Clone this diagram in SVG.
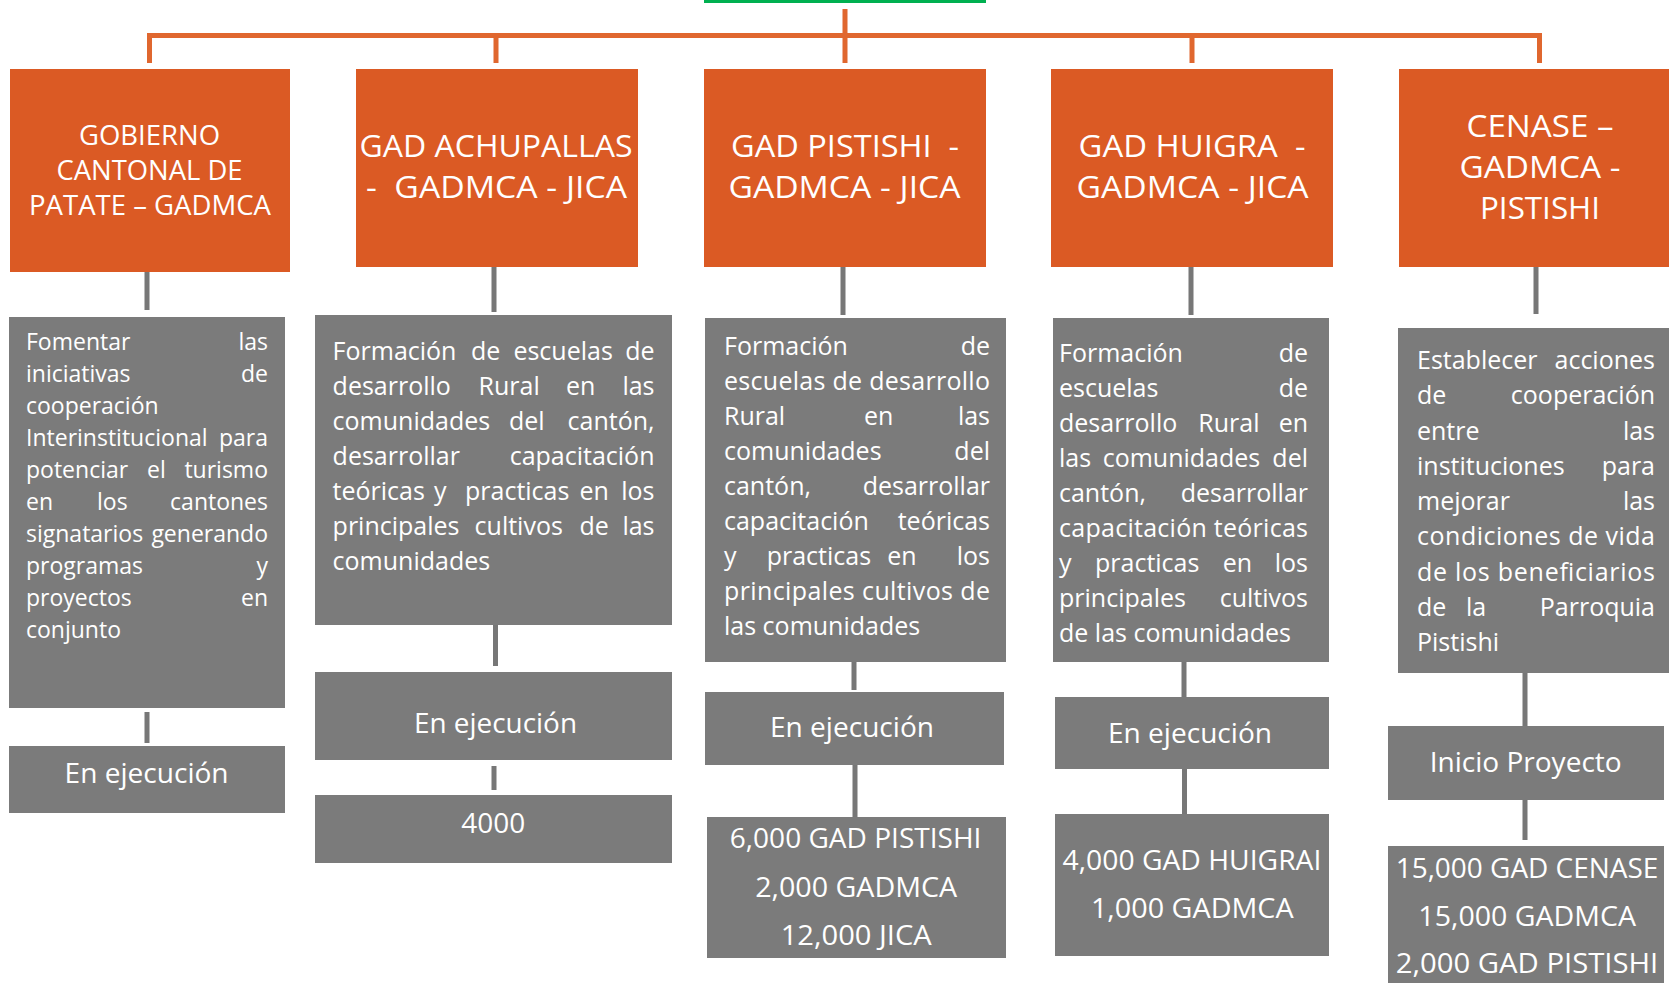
<svg xmlns="http://www.w3.org/2000/svg" width="1669" height="983" viewBox="0 0 1669 983">
<style>
.ob{fill:#DB5A24}
.gb{fill:#7B7B7B}
.oc{stroke:#E0672F;stroke-width:5;fill:none}
.gc{stroke:#777777;stroke-width:5;fill:none}
text{font-family:"Open Sans","Liberation Sans",sans-serif;fill:#FFFFFF}
.h{font-size:31px;text-anchor:middle}
.h1{font-size:27px;text-anchor:middle}
.s{font-size:27.5px;text-anchor:middle}
.a{font-size:26.5px;text-anchor:middle}
.d{font-size:25px}
.d1{font-size:23px}
.e{text-anchor:end}
</style>
<rect x="704" y="0" width="282" height="3" fill="#00B050"/>
<g id="connectors">
<path class="oc" d="M845 9 V63 M149.5 63 V35.5 H1539.5 V63 M496 35.5 V63 M1192 35.5 V63"/>
<path class="gc" d="M147 271 V310 M494 266 V312 M843 266 V315 M1191 266 V315 M1536 266 V314"/>
<path class="gc" d="M147 712 V743 M495.5 624 V666 M854 662 V690 M1184 662 V697 M1525 672 V726"/>
<path class="gc" d="M494 766 V790 M855 764 V817 M1184.5 768 V814 M1525 800 V840"/>
</g>
<g id="n1">
<rect class="ob" x="10" y="69" width="280" height="203"/>
<text class="h1" x="149.5" y="145" textLength="141" lengthAdjust="spacingAndGlyphs">GOBIERNO</text>
<text class="h1" x="149.5" y="180" textLength="186" lengthAdjust="spacingAndGlyphs">CANTONAL DE</text>
<text class="h1" x="150" y="215" textLength="242" lengthAdjust="spacingAndGlyphs">PATATE – GADMCA</text>
</g>
<g id="n2">
<rect class="ob" x="356" y="69" width="282" height="198"/>
<text class="h" x="496" y="157" textLength="273" lengthAdjust="spacingAndGlyphs">GAD ACHUPALLAS</text>
<text class="h" x="496.5" y="198" textLength="261" lengthAdjust="spacingAndGlyphs">-&#160; GADMCA - JICA</text>
</g>
<g id="n3">
<rect class="ob" x="704" y="69" width="282" height="198"/>
<text class="h" x="845" y="157" textLength="228" lengthAdjust="spacingAndGlyphs">GAD PISTISHI &#160;-</text>
<text class="h" x="844.5" y="198" textLength="232" lengthAdjust="spacingAndGlyphs">GADMCA - JICA</text>
</g>
<g id="n4">
<rect class="ob" x="1051" y="69" width="282" height="198"/>
<text class="h" x="1192" y="157" textLength="227" lengthAdjust="spacingAndGlyphs">GAD HUIGRA &#160;-</text>
<text class="h" x="1192.6" y="198" textLength="232" lengthAdjust="spacingAndGlyphs">GADMCA - JICA</text>
</g>
<g id="n5">
<rect class="ob" x="1399" y="69" width="270" height="198"/>
<text class="h" x="1540" y="137" textLength="147" lengthAdjust="spacingAndGlyphs">CENASE –</text>
<text class="h" x="1540" y="178" textLength="161" lengthAdjust="spacingAndGlyphs">GADMCA -</text>
<text class="h" x="1540" y="219" textLength="120" lengthAdjust="spacingAndGlyphs">PISTISHI</text>
</g>
<g id="d1">
<rect class="gb" x="9" y="317" width="276" height="391"/>
<text class="d1" y="350"><tspan x="26">Fomentar</tspan><tspan class="e" x="268">las</tspan></text>
<text class="d1" y="382"><tspan x="26">iniciativas</tspan><tspan class="e" x="268">de</tspan></text>
<text class="d1" y="414"><tspan x="26">cooperación</tspan></text>
<text class="d1" y="446"><tspan x="26">Interinstitucional</tspan><tspan class="e" x="268">para</tspan></text>
<text class="d1" y="478"><tspan x="26">potenciar</tspan><tspan x="147">el</tspan><tspan class="e" x="268">turismo</tspan></text>
<text class="d1" y="510"><tspan x="26">en</tspan><tspan x="97">los</tspan><tspan class="e" x="268">cantones</tspan></text>
<text class="d1" y="542"><tspan x="26">signatarios</tspan><tspan class="e" x="268">generando</tspan></text>
<text class="d1" y="574"><tspan x="26">programas</tspan><tspan class="e" x="268">y</tspan></text>
<text class="d1" y="606"><tspan x="26">proyectos</tspan><tspan class="e" x="268">en</tspan></text>
<text class="d1" y="638"><tspan x="26">conjunto</tspan></text>
</g>
<g id="d2">
<rect class="gb" x="315" y="315" width="357" height="310"/>
<text class="d" y="360"><tspan x="332.6">Formación</tspan><tspan x="471">de</tspan><tspan x="513.4">escuelas</tspan><tspan class="e" x="654.5">de</tspan></text>
<text class="d" y="395"><tspan x="332.6">desarrollo</tspan><tspan x="478.6">Rural</tspan><tspan x="566">en</tspan><tspan class="e" x="654.5">las</tspan></text>
<text class="d" y="430"><tspan x="332.6">comunidades</tspan><tspan x="509">del</tspan><tspan class="e" x="654.5">cantón,</tspan></text>
<text class="d" y="465"><tspan x="332.6">desarrollar</tspan><tspan class="e" x="654.5">capacitación</tspan></text>
<text class="d" y="500"><tspan x="332.6">teóricas</tspan><tspan x="434">y</tspan><tspan x="465">practicas</tspan><tspan x="579.5">en</tspan><tspan class="e" x="654.5">los</tspan></text>
<text class="d" y="535"><tspan x="332.6">principales</tspan><tspan x="474.6">cultivos</tspan><tspan x="579.5">de</tspan><tspan class="e" x="654.5">las</tspan></text>
<text class="d" y="570"><tspan x="332.6">comunidades</tspan></text>
</g>
<g id="d3">
<rect class="gb" x="705" y="318" width="301" height="344"/>
<text class="d" y="355"><tspan x="724">Formación</tspan><tspan class="e" x="990">de</tspan></text>
<text class="d" x="724" y="390" textLength="266" lengthAdjust="spacing">escuelas de desarrollo</text>
<text class="d" y="425"><tspan x="724">Rural</tspan><tspan x="864">en</tspan><tspan class="e" x="990">las</tspan></text>
<text class="d" y="460"><tspan x="724">comunidades</tspan><tspan class="e" x="990">del</tspan></text>
<text class="d" y="495"><tspan x="724">cantón,</tspan><tspan class="e" x="990">desarrollar</tspan></text>
<text class="d" y="530"><tspan x="724">capacitación</tspan><tspan class="e" x="990">teóricas</tspan></text>
<text class="d" y="565"><tspan x="724">y</tspan><tspan x="766.7">practicas</tspan><tspan x="887.3">en</tspan><tspan class="e" x="990">los</tspan></text>
<text class="d" x="724" y="600" textLength="266" lengthAdjust="spacing">principales cultivos de</text>
<text class="d" x="724" y="635">las comunidades</text>
</g>
<g id="d4">
<rect class="gb" x="1053" y="318" width="276" height="344"/>
<text class="d" y="361.7"><tspan x="1059">Formación</tspan><tspan class="e" x="1308">de</tspan></text>
<text class="d" y="396.7"><tspan x="1059">escuelas</tspan><tspan class="e" x="1308">de</tspan></text>
<text class="d" y="431.7"><tspan x="1059">desarrollo</tspan><tspan x="1198.3">Rural</tspan><tspan class="e" x="1308">en</tspan></text>
<text class="d" y="466.7"><tspan x="1059">las</tspan><tspan x="1102.7">comunidades</tspan><tspan class="e" x="1308">del</tspan></text>
<text class="d" y="501.7"><tspan x="1059">cantón,</tspan><tspan class="e" x="1308">desarrollar</tspan></text>
<text class="d" x="1059" y="536.7" textLength="249" lengthAdjust="spacing">capacitación teóricas</text>
<text class="d" y="571.7"><tspan x="1059">y</tspan><tspan x="1095">practicas</tspan><tspan x="1222.7">en</tspan><tspan class="e" x="1308">los</tspan></text>
<text class="d" y="606.7"><tspan x="1059">principales</tspan><tspan class="e" x="1308">cultivos</tspan></text>
<text class="d" x="1059" y="641.7">de las comunidades</text>
</g>
<g id="d5">
<rect class="gb" x="1398" y="328" width="271" height="345"/>
<text class="d" y="369"><tspan x="1417">Establecer</tspan><tspan class="e" x="1655">acciones</tspan></text>
<text class="d" y="404.3"><tspan x="1417">de</tspan><tspan class="e" x="1655">cooperación</tspan></text>
<text class="d" y="439.5"><tspan x="1417">entre</tspan><tspan class="e" x="1655">las</tspan></text>
<text class="d" y="474.8"><tspan x="1417">instituciones</tspan><tspan class="e" x="1655">para</tspan></text>
<text class="d" y="510"><tspan x="1417">mejorar</tspan><tspan class="e" x="1655">las</tspan></text>
<text class="d" x="1417" y="545.3" textLength="238" lengthAdjust="spacing">condiciones de vida</text>
<text class="d" x="1417" y="580.5" textLength="238" lengthAdjust="spacing">de los beneficiarios</text>
<text class="d" y="615.8"><tspan x="1417">de</tspan><tspan x="1466">la</tspan><tspan class="e" x="1655">Parroquia</tspan></text>
<text class="d" x="1417" y="651">Pistishi</text>
</g>
<g id="s1">
<rect class="gb" x="9" y="746" width="276" height="67"/>
<text class="s" x="146.6" y="783" textLength="164" lengthAdjust="spacingAndGlyphs">En ejecución</text>
</g>
<g id="s2">
<rect class="gb" x="315" y="672" width="357" height="88"/>
<text class="s" x="495.5" y="733" textLength="163" lengthAdjust="spacingAndGlyphs">En ejecución</text>
</g>
<g id="s3">
<rect class="gb" x="705" y="692" width="299" height="73"/>
<text class="s" x="852" y="737" textLength="164" lengthAdjust="spacingAndGlyphs">En ejecución</text>
</g>
<g id="s4">
<rect class="gb" x="1055" y="697" width="274" height="72"/>
<text class="s" x="1190" y="742.7" textLength="164" lengthAdjust="spacingAndGlyphs">En ejecución</text>
</g>
<g id="s5">
<rect class="gb" x="1388" y="726" width="276" height="74"/>
<text class="s" x="1525.7" y="771.7" textLength="192" lengthAdjust="spacingAndGlyphs">Inicio Proyecto</text>
</g>
<g id="a2">
<rect class="gb" x="315" y="795" width="357" height="68"/>
<text class="a" x="493.3" y="833" textLength="64" lengthAdjust="spacingAndGlyphs">4000</text>
</g>
<g id="a3">
<rect class="gb" x="707" y="817" width="299" height="141"/>
<text class="a" x="855.6" y="848" textLength="251.6" lengthAdjust="spacingAndGlyphs">6,000 GAD PISTISHI</text>
<text class="a" x="856.2" y="896.7" textLength="202" lengthAdjust="spacingAndGlyphs">2,000 GADMCA</text>
<text class="a" x="856.2" y="945" textLength="151" lengthAdjust="spacingAndGlyphs">12,000 JICA</text>
</g>
<g id="a4">
<rect class="gb" x="1055" y="814" width="274" height="142"/>
<text class="a" x="1192" y="870" textLength="258.8" lengthAdjust="spacingAndGlyphs">4,000 GAD HUIGRAI</text>
<text class="a" x="1192.3" y="917.7" textLength="202.7" lengthAdjust="spacingAndGlyphs">1,000 GADMCA</text>
</g>
<g id="a5">
<rect class="gb" x="1388" y="846" width="276" height="137"/>
<text class="a" x="1527" y="878" textLength="262.6" lengthAdjust="spacingAndGlyphs">15,000 GAD CENASE</text>
<text class="a" x="1527.2" y="926" textLength="217.7" lengthAdjust="spacingAndGlyphs">15,000 GADMCA</text>
<text class="a" x="1527" y="973" textLength="262.6" lengthAdjust="spacingAndGlyphs">2,000 GAD PISTISHI</text>
</g>
</svg>
